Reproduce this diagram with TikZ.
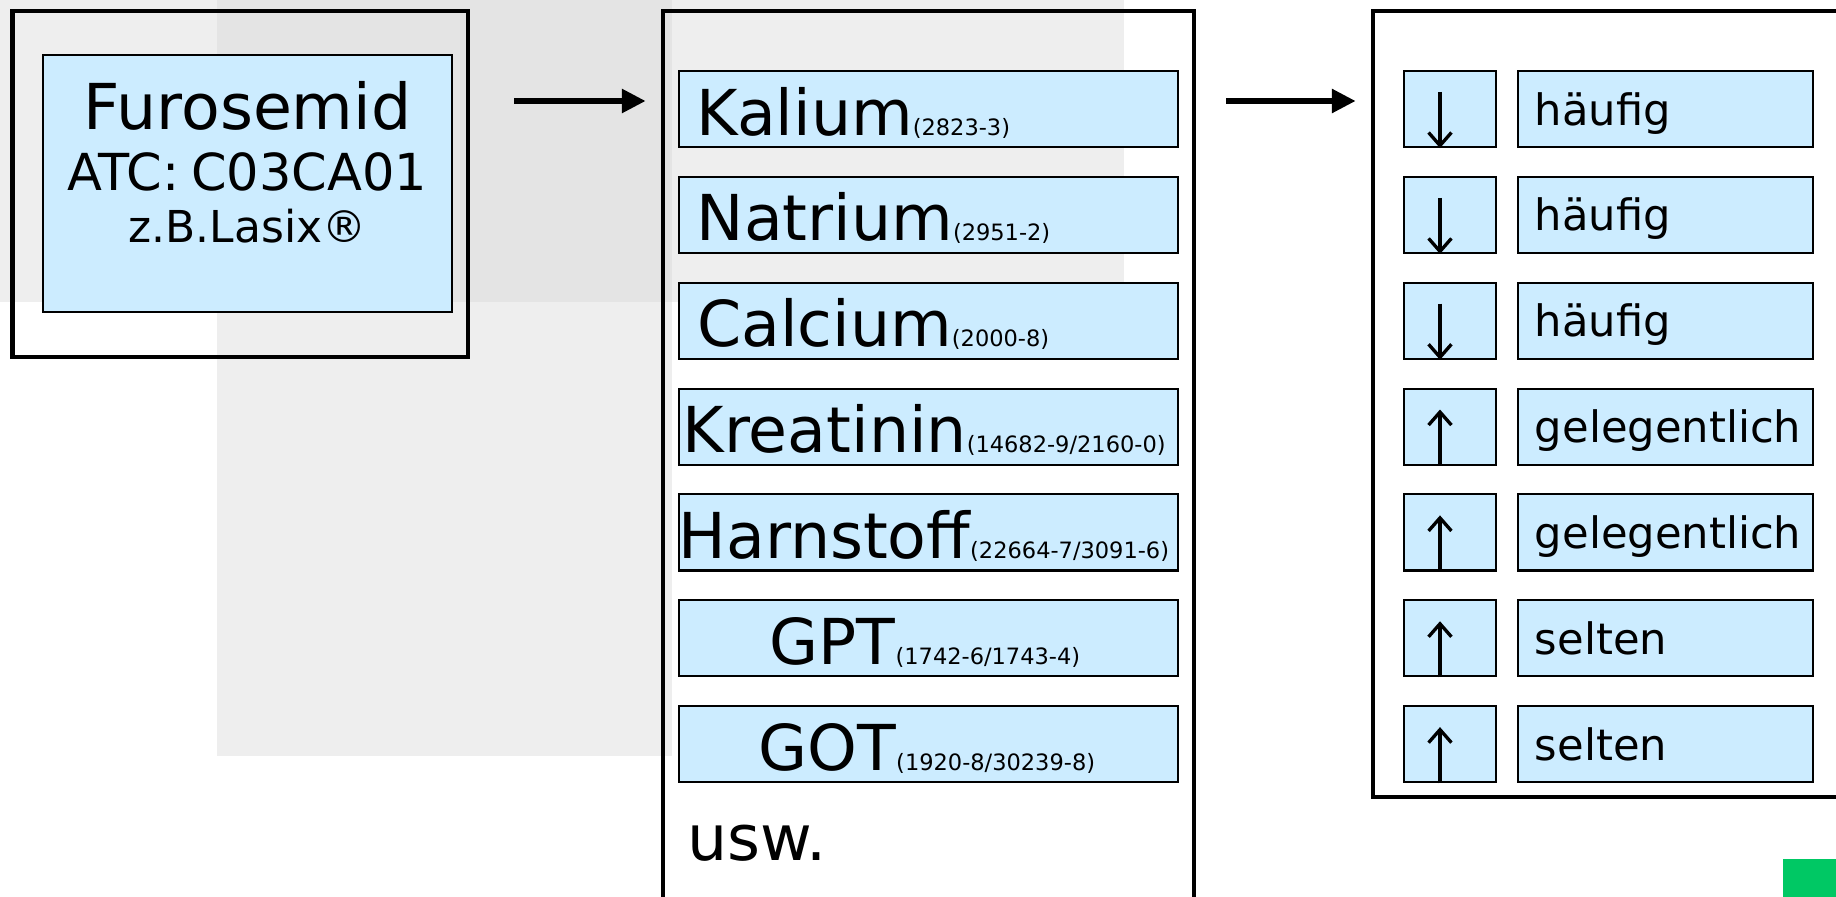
\documentclass[tikz,border=0pt]{standalone}
\usepackage{fontspec}
\setmainfont{DejaVu Sans}
\usetikzlibrary{arrows.meta, positioning}
\definecolor{paleblue}{RGB}{204,236,255}
\definecolor{bandgrey}{RGB}{238,238,238}
\definecolor{overlapgrey}{RGB}{228,228,228}
\definecolor{markgreen}{RGB}{0,200,100}
\newcommand{\loinc}[1]{{\fontsize{6.4}{7}\selectfont(#1)}}
\newcommand{\labname}[3]{\makebox[4.99cm][l]{\hspace{#1}#2\loinc{#3}}}
\newcommand{\freqname}[1]{\makebox[2.95cm][l]{\hspace{0.17cm}#1}}
\tikzstyle{frame} = [rectangle, draw=black, line width=1.2pt, inner sep=0pt]
\tikzstyle{drugbox} = [rectangle, minimum width=4.09cm, minimum height=2.57cm, text width=4.09cm, align=center, text height=0.75cm, text depth=1.82cm, inner sep=0pt, draw=black, line width=0.6pt, fill=paleblue]
\tikzstyle{lab} = [rectangle, minimum width=4.99cm, minimum height=0.76cm, text height=0.64cm, text depth=0.12cm, inner sep=0pt, draw=black, line width=0.6pt, fill=paleblue, font=\fontsize{18}{20}\selectfont]
\tikzstyle{trend} = [rectangle, minimum width=0.92cm, minimum height=0.76cm, inner sep=0pt, draw=black, line width=0.6pt, fill=paleblue]
\tikzstyle{freq} = [rectangle, minimum width=2.95cm, minimum height=0.76cm, text height=0.54cm, text depth=0.22cm, inner sep=0pt, draw=black, line width=0.6pt, fill=paleblue, font=\fontsize{12.3}{14}\selectfont]
\tikzstyle{arrow} = [line width=1.7pt, -{Triangle[length=6.8pt, width=6.5pt]}]
\tikzstyle{trendarrow} = [line width=0.95pt, -{Straight Barb[length=3.7pt, width=6.5pt]}]

\begin{document}
\begin{tikzpicture}[x=0.01cm, y=-0.01cm, node distance=1.058cm]
        \useasboundingbox (0,0) rectangle (1836,897);
        \clip (0,0) rectangle (1836,897);
        % Background
        \fill [bandgrey] (0,0) rectangle (1124,302);
        \fill [bandgrey] (217,0) rectangle (672,756);
        \fill [overlapgrey] (217,0) rectangle (672,302);
        \fill [markgreen] (1783,859) rectangle (1836,897);

        % Nodes
        \node (drugframe) [frame, minimum width=4.555cm, minimum height=3.46cm] at (240.3,184) {};
        \node (drug) [drugbox] at (247.5,183.5) {\fontsize{18}{18}\selectfont Furosemid\par
            \fontsize{14.5}{17.3}\selectfont ATC: C03CA01\par
            \fontsize{12.5}{14.8}\selectfont z.B.Lasix®\par};

        \node (labframe) [frame, minimum width=5.31cm, minimum height=9.49cm] at (928.5,485.5) {};
        \node (kalium) [lab] at (928.3,109) {\labname{0.18cm}{Kalium}{2823-3}};
        \node (natrium) [lab, below of=kalium] {\labname{0.18cm}{Natrium}{2951-2}};
        \node (calcium) [lab, below of=natrium] {\labname{0.185cm}{Calcium}{2000-8}};
        \node (kreatinin) [lab, below of=calcium] {\labname{0.04cm}{Kreatinin}{14682-9/2160-0}};
        \node (harnstoff) [lab, below of=kreatinin] {\labname{0cm}{Harnstoff}{22664-7/3091-6}};
        \node (gpt) [lab, below of=harnstoff] {\labname{0.91cm}{GPT}{1742-6/1743-4}};
        \node (got) [lab, below of=gpt] {\labname{0.80cm}{GOT}{1920-8/30239-8}};
        \node (usw) [anchor=base west, inner sep=0pt, font=\fontsize{18}{20}\selectfont] at (687,860) {usw.};

        \node (trendframe) [frame, minimum width=5.27cm, minimum height=7.86cm] at (1636.5,404) {};
        \node (trend1) [trend] at (1450,109) {};
        \node (trend2) [trend, below of=trend1] {};
        \node (trend3) [trend, below of=trend2] {};
        \node (trend4) [trend, below of=trend3] {};
        \node (trend5) [trend, below of=trend4] {};
        \node (trend6) [trend, below of=trend5] {};
        \node (trend7) [trend, below of=trend6] {};
        \node (freq1) [freq] at (1665.5,109) {\freqname{häufig}};
        \node (freq2) [freq, below of=freq1] {\freqname{häufig}};
        \node (freq3) [freq, below of=freq2] {\freqname{häufig}};
        \node (freq4) [freq, below of=freq3] {\freqname{gelegentlich}};
        \node (freq5) [freq, below of=freq4] {\freqname{gelegentlich}};
        \node (freq6) [freq, below of=freq5] {\freqname{selten}};
        \node (freq7) [freq, below of=freq6] {\freqname{selten}};

        % Lines
        \coordinate (flow) at (0,101);
        \draw [arrow, shorten <=0.44cm, shorten >=0.15cm] (drugframe.east |- flow) -- (labframe.west |- flow);
        \draw [arrow, shorten <=0.30cm, shorten >=0.15cm] (labframe.east |- flow) -- (trendframe.west |- flow);
        \draw [trendarrow] ([xshift=-0.1cm, yshift=-0.22cm]trend1.north) -- ([xshift=-0.1cm]trend1.south);
        \draw [trendarrow] ([xshift=-0.1cm, yshift=-0.22cm]trend2.north) -- ([xshift=-0.1cm]trend2.south);
        \draw [trendarrow] ([xshift=-0.1cm, yshift=-0.22cm]trend3.north) -- ([xshift=-0.1cm]trend3.south);
        \draw [trendarrow] ([xshift=-0.1cm]trend4.south) -- ([xshift=-0.1cm, yshift=-0.22cm]trend4.north);
        \draw [trendarrow] ([xshift=-0.1cm]trend5.south) -- ([xshift=-0.1cm, yshift=-0.22cm]trend5.north);
        \draw [trendarrow] ([xshift=-0.1cm]trend6.south) -- ([xshift=-0.1cm, yshift=-0.22cm]trend6.north);
        \draw [trendarrow] ([xshift=-0.1cm]trend7.south) -- ([xshift=-0.1cm, yshift=-0.22cm]trend7.north);
    \end{tikzpicture}
\end{document}
